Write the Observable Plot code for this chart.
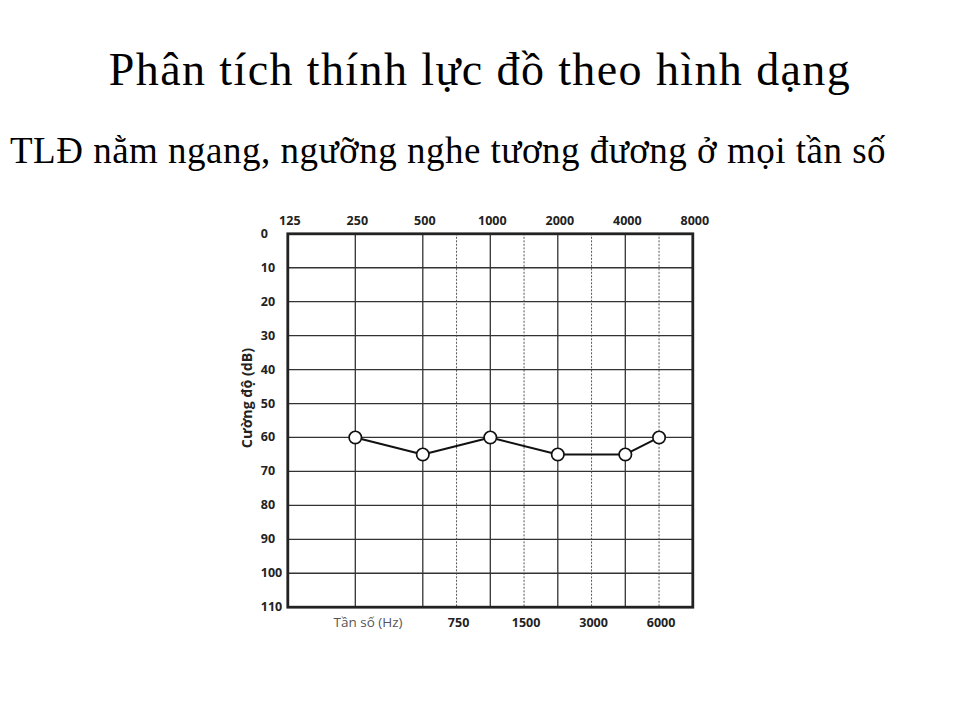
<!DOCTYPE html>
<html>
<head>
<meta charset="utf-8">
<script src="https://cdn.jsdelivr.net/npm/d3@7"></script>
<script src="https://cdn.jsdelivr.net/npm/@observablehq/plot@0.6"></script>
<style>
  html, body { margin: 0; padding: 0; background: #fff; width: 960px; height: 720px; overflow: hidden; }
  #title { position: absolute; left: 0; width: 960px; top: 46.5px; text-align: center;
    font-family: "Liberation Serif", "Times New Roman", serif; font-size: 46px; letter-spacing: 1.4px; color: #000; line-height: 1; white-space: nowrap; }
  #subtitle { position: absolute; left: 10px; top: 132.3px;
    font-family: "Liberation Serif", "Times New Roman", serif; font-size: 37px; letter-spacing: 0.5px; color: #000; line-height: 1; white-space: nowrap; }
  #chart { position: absolute; left: 0; top: 200px; }
</style>
</head>
<body>
<div id="title">Phân tích thính lực đồ theo hình dạng</div>
<div id="subtitle">TLĐ nằm ngang, ngưỡng nghe tương đương ở mọi tần số</div>
<div id="chart"></div>
<script>
// Data
const octaveFreqs = [125, 250, 500, 1000, 2000, 4000, 8000];
const halfFreqs = [750, 1500, 3000, 6000];
const dbTicks = [0, 10, 20, 30, 40, 50, 60, 70, 80, 90, 100, 110];
const testFreqs = [250, 500, 1000, 2000, 4000, 6000];
const thresholds = [60, 65, 60, 65, 65, 60];
const xLabel = "Tần số (Hz)";
const yLabel = "Cường độ (dB)";

// audiogram position: octaves from 125 Hz, half-octave steps for inter-octave frequencies
const pos = f => Math.round(Math.log2(f / 125) * 2) / 2;
const points = testFreqs.map((f, i) => ({f, db: thresholds[i]}));

const tickFont = {fontFamily: "'Open Sans', sans-serif", fontWeight: 700, fontSize: 12.5, fill: "#222", lineAnchor: "middle"};

const chart = Plot.plot({
  width: 960,
  height: 450,
  marginLeft: 287.3,
  marginRight: 267.7,
  marginTop: 33.3,
  marginBottom: 43.3,
  x: {type: "linear", domain: [0, 6], axis: null},
  y: {type: "linear", domain: [0, 110], reverse: true, axis: null},
  marks: [
    Plot.ruleY(dbTicks.slice(1, -1), {y: d => d, stroke: "#333", strokeWidth: 1.3}),
    Plot.ruleX(octaveFreqs.slice(1, -1), {x: pos, stroke: "#333", strokeWidth: 1.3}),
    Plot.ruleX(halfFreqs, {x: pos, stroke: "#444", strokeWidth: 0.9, strokeDasharray: "2,1.5"}),
    Plot.frame({stroke: "#222", strokeWidth: 2.8}),
    Plot.text(octaveFreqs, {x: pos, text: d => String(d), frameAnchor: "top", dx: 2, dy: -12.6, ...tickFont}),
    Plot.text(halfFreqs, {x: pos, text: d => String(d), frameAnchor: "bottom", dx: 2, dy: 15.3, ...tickFont}),
    Plot.text(dbTicks, {y: d => d, text: d => String(d), frameAnchor: "left", dx: -27, textAnchor: "start", ...tickFont}),
    Plot.text([yLabel], {frameAnchor: "left", textAnchor: "middle", lineAnchor: "middle", dx: -40, dy: -22.5, rotate: -90, fontFamily: "'Open Sans', sans-serif", fontWeight: 700, fontSize: 14.2, fill: "#222"}),
    Plot.text([xLabel], {frameAnchor: "bottom-left", dx: 45.7, dy: 15.3, textAnchor: "start", lineAnchor: "middle", fontFamily: "'Open Sans', sans-serif", fontWeight: 400, fontSize: 13.5, fill: "#555"}),
    Plot.line(points, {x: d => pos(d.f), y: "db", stroke: "#111", strokeWidth: 2}),
    Plot.dot(points, {x: d => pos(d.f), y: "db", r: 6.2, fill: "#fff", stroke: "#111", strokeWidth: 1.7})
  ]
});
document.getElementById("chart").appendChild(chart);
</script>
</body>
</html>
